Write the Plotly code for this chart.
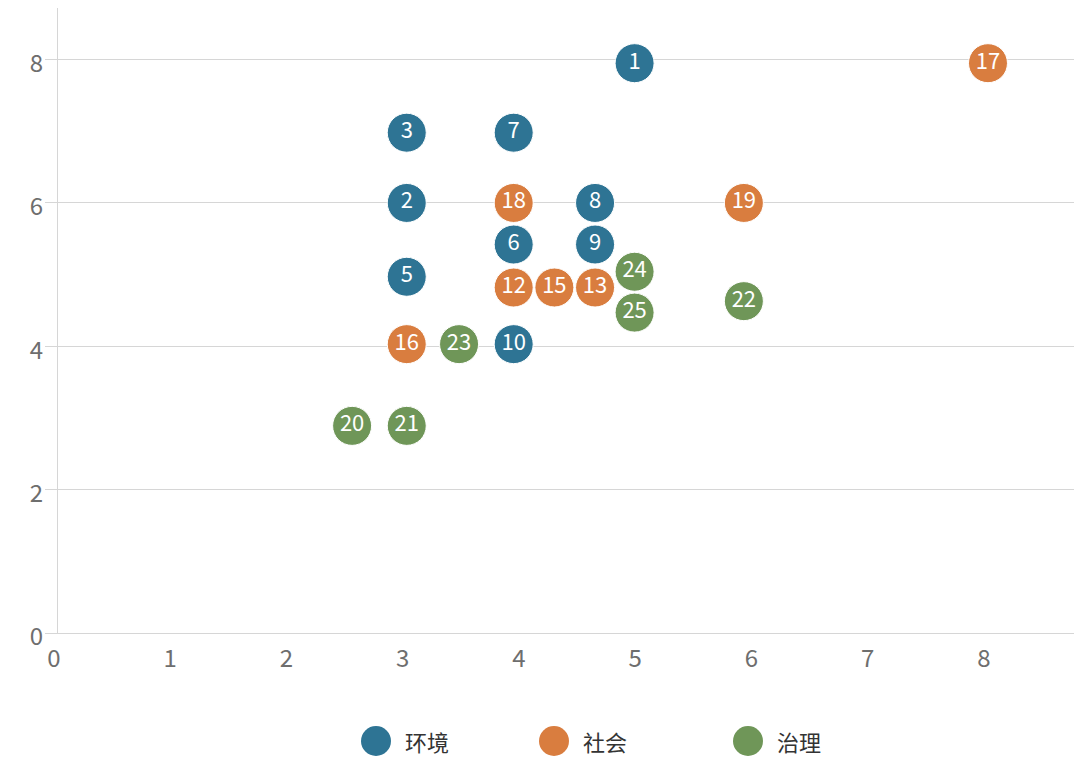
import plotly.graph_objects as go

categories = ["环境", "社会", "治理"]
colors = ["#2e7494", "#d97d3f", "#6f9658"]

env_ids = ["1", "2", "3", "5", "6", "7", "8", "9", "10"]
env_x = [4.96, 3.00, 3.00, 3.00, 3.92, 3.92, 4.62, 4.62, 3.92]
env_y = [7.95, 6.00, 6.98, 4.97, 5.42, 6.98, 6.00, 5.42, 4.03]

soc_ids = ["12", "13", "15", "16", "17", "18", "19"]
soc_x = [3.92, 4.62, 4.27, 3.00, 8.00, 3.92, 5.90]
soc_y = [4.82, 4.82, 4.82, 4.03, 7.95, 6.00, 6.00]

gov_ids = ["20", "21", "22", "23", "24", "25"]
gov_x = [2.53, 3.00, 5.90, 3.45, 4.96, 4.96]
gov_y = [2.89, 2.89, 4.63, 4.03, 5.04, 4.47]

x_ticks = [0, 1, 2, 3, 4, 5, 6, 7, 8]
y_ticks = [0, 2, 4, 6, 8]

FONT = "Noto Sans CJK SC"
series = [(env_ids, env_x, env_y), (soc_ids, soc_x, soc_y), (gov_ids, gov_x, gov_y)]

fig = go.Figure()
for (ids, xs, ys), name, col in zip(series, categories, colors):
    fig.add_trace(go.Scatter(
        x=xs, y=ys, text=ids, name=name, mode="markers+text",
        textposition="middle center",
        textfont=dict(family=FONT, size=22, color="white"),
        marker=dict(size=39, color=col, line=dict(width=1, color="white")),
        showlegend=False,
    ))

# custom legend (large circles)
legend_x = [376, 554, 748]
W, H = 1074, 758
ml, mr, mt, mb = 58, 0, 8, 125
pw, ph = W - ml - mr, H - mt - mb
leg_y_px = 741
for cx, name, col in zip(legend_x, categories, colors):
    px = (cx - ml) / pw
    py = (H - mb - leg_y_px) / ph
    fig.add_shape(type="circle", xref="paper", yref="paper",
                  xsizemode="pixel", ysizemode="pixel",
                  xanchor=px, yanchor=py, x0=-15, x1=15, y0=-15, y1=15,
                  fillcolor=col, line=dict(width=0))
    fig.add_annotation(xref="paper", yref="paper", x=(cx + 27 - ml) / pw, y=py,
                       text=name, showarrow=False, xanchor="left", yanchor="middle",
                       font=dict(family=FONT, size=22, color="#333333"))

fig.update_layout(
    width=W, height=H,
    margin=dict(l=ml, r=mr, t=mt, b=mb),
    plot_bgcolor="white", paper_bgcolor="white",
    font=dict(family=FONT, size=24, color="#6e6e6e"),
    showlegend=False,
)
fig.update_xaxes(range=[0, 8.74], tickvals=x_ticks, showgrid=False, zeroline=False,
                 showline=True, linecolor="#d6d6d6", linewidth=1,
                 ticks="", ticklabelshift=-4, ticklabelstandoff=4,
                 tickfont=dict(size=24, color="#6e6e6e"))
fig.update_yaxes(range=[0, 8.72], tickvals=y_ticks, showgrid=True, gridcolor="#d6d6d6",
                 zeroline=False, showline=True, linecolor="#d6d6d6", linewidth=1,
                 ticks="outside", ticklen=12, tickcolor="#d6d6d6",
                 ticklabelshift=4, ticklabelstandoff=-3,
                 tickfont=dict(size=24, color="#6e6e6e"))

fig.write_html("out.html", config={"displayModeBar": False},
               post_script="document.body.style.margin='0';document.body.style.overflow='hidden';")
